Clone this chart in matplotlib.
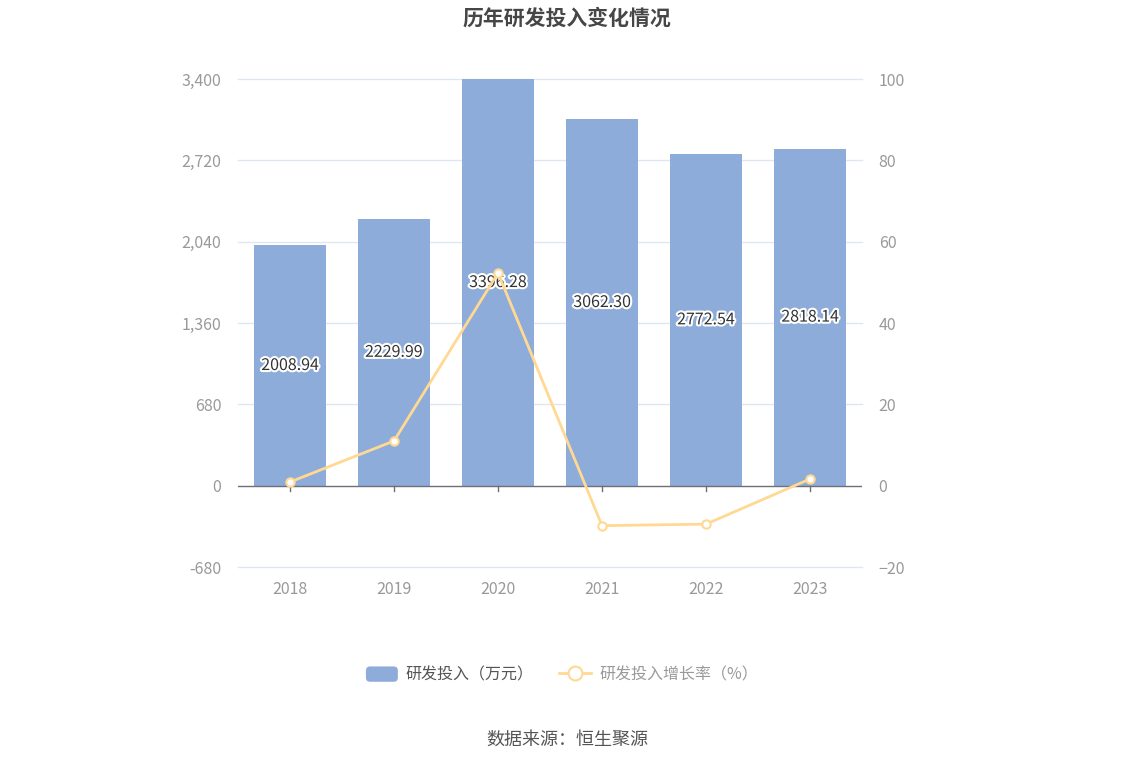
import matplotlib
matplotlib.use("Agg")
import matplotlib.pyplot as plt
import matplotlib.patheffects as pe
from matplotlib.lines import Line2D
from matplotlib.patches import FancyBboxPatch
from matplotlib.legend_handler import HandlerPatch
import matplotlib.patches as mpatches

plt.rcParams['font.family'] = ['Noto Sans CJK SC', 'DejaVu Sans']

years = ['2018', '2019', '2020', '2021', '2022', '2023']
rd_invest = [2008.94, 2229.99, 3396.28, 3062.30, 2772.54, 2818.14]
growth = [0.9, 11.0, 52.31, -9.83, -9.46, 1.64]
left_ticks = [-680, 0, 680, 1360, 2040, 2720, 3400]
right_ticks = [-20, 0, 20, 40, 60, 80, 100]

bar_color = '#8DACDA'
line_color = '#FFD993'
tick_color = '#999999'
grid_color = '#E0E6F1'

fig = plt.figure(figsize=(11.34, 7.66), dpi=100)
ax = fig.add_axes([238/1134, 1-567/766, 624/1134, 488/766])

x = list(range(len(years)))
ax.bar(x, rd_invest, width=0.69, color=bar_color, zorder=2)
ax.set_xlim(-0.5, len(years)-0.5)
ax.set_ylim(-680, 3400)
ax.set_yticks(left_ticks)
ax.set_yticklabels([f'{v:,}' for v in left_ticks])
for t in left_ticks:
    if t != 0:
        ax.axhline(t, color=grid_color, linewidth=1, zorder=0, clip_on=False)
for s in ['top', 'right', 'left', 'bottom']:
    ax.spines[s].set_visible(False)
ax.axhline(0, color='#6E7079', linewidth=1, zorder=3)
ax.tick_params(axis='y', length=0, colors=tick_color, labelsize=11.5, pad=12)
ax.set_xticks(x)
ax.set_xticklabels(years)
ax.tick_params(axis='x', length=0, colors=tick_color, labelsize=11.5, pad=10)
tick_len = 5 / 488 * 4080
for xi in x:
    ax.plot([xi, xi], [0, -tick_len], color='#6E7079', linewidth=1, zorder=3)

for xi, v in zip(x, rd_invest):
    ax.text(xi, v/2, f'{v:.2f}', ha='center', va='center', fontsize=11.5, color='#333333', zorder=6,
            path_effects=[pe.withStroke(linewidth=3, foreground='white')])

ax2 = ax.twinx()
ax2.set_ylim(-20, 100)
ax2.set_yticks(right_ticks)
for s in ['top', 'right', 'left', 'bottom']:
    ax2.spines[s].set_visible(False)
ax2.tick_params(axis='y', length=0, colors=tick_color, labelsize=11.5, pad=12)
ax2.plot(x, growth, color=line_color, linewidth=2, marker='o', markersize=6,
         markerfacecolor='white', markeredgecolor=line_color, markeredgewidth=1.5, zorder=5)
ax.set_zorder(1)
ax2.set_zorder(2)
ax2.patch.set_visible(False)

fig.text(0.5, 1-18/766, '历年研发投入变化情况', ha='center', va='center', fontsize=15,
         fontweight='bold', color='#464646')

class RoundRectHandler(HandlerPatch):
    def create_artists(self, legend, orig_handle, xdescent, ydescent, width, height, fontsize, trans):
        p = FancyBboxPatch((-xdescent, -ydescent), width, height,
                           boxstyle='round,pad=0,rounding_size=3', facecolor=bar_color, edgecolor='none',
                           transform=trans)
        return [p]

h1 = mpatches.Patch(color=bar_color)
h2 = Line2D([0], [0], color=line_color, linewidth=2, marker='o', markersize=10,
            markerfacecolor='white', markeredgecolor=line_color, markeredgewidth=1.5)
leg = fig.legend([h1, h2], ['研发投入（万元）', '研发投入增长率（%）'], loc='center',
                 bbox_to_anchor=(562/1134, 1-675/766), ncol=2, frameon=False, fontsize=11.5,
                 handler_map={mpatches.Patch: RoundRectHandler()}, handlelength=2.0, handleheight=1.1,
                 columnspacing=1.6, handletextpad=0.5)
texts = leg.get_texts()
texts[0].set_color('#555555')
texts[1].set_color('#999999')

fig.text(0.5, 1-740/766, '数据来源：恒生聚源', ha='center', va='center', fontsize=13, color='#555555')

fig.savefig('out.png', dpi=100)
